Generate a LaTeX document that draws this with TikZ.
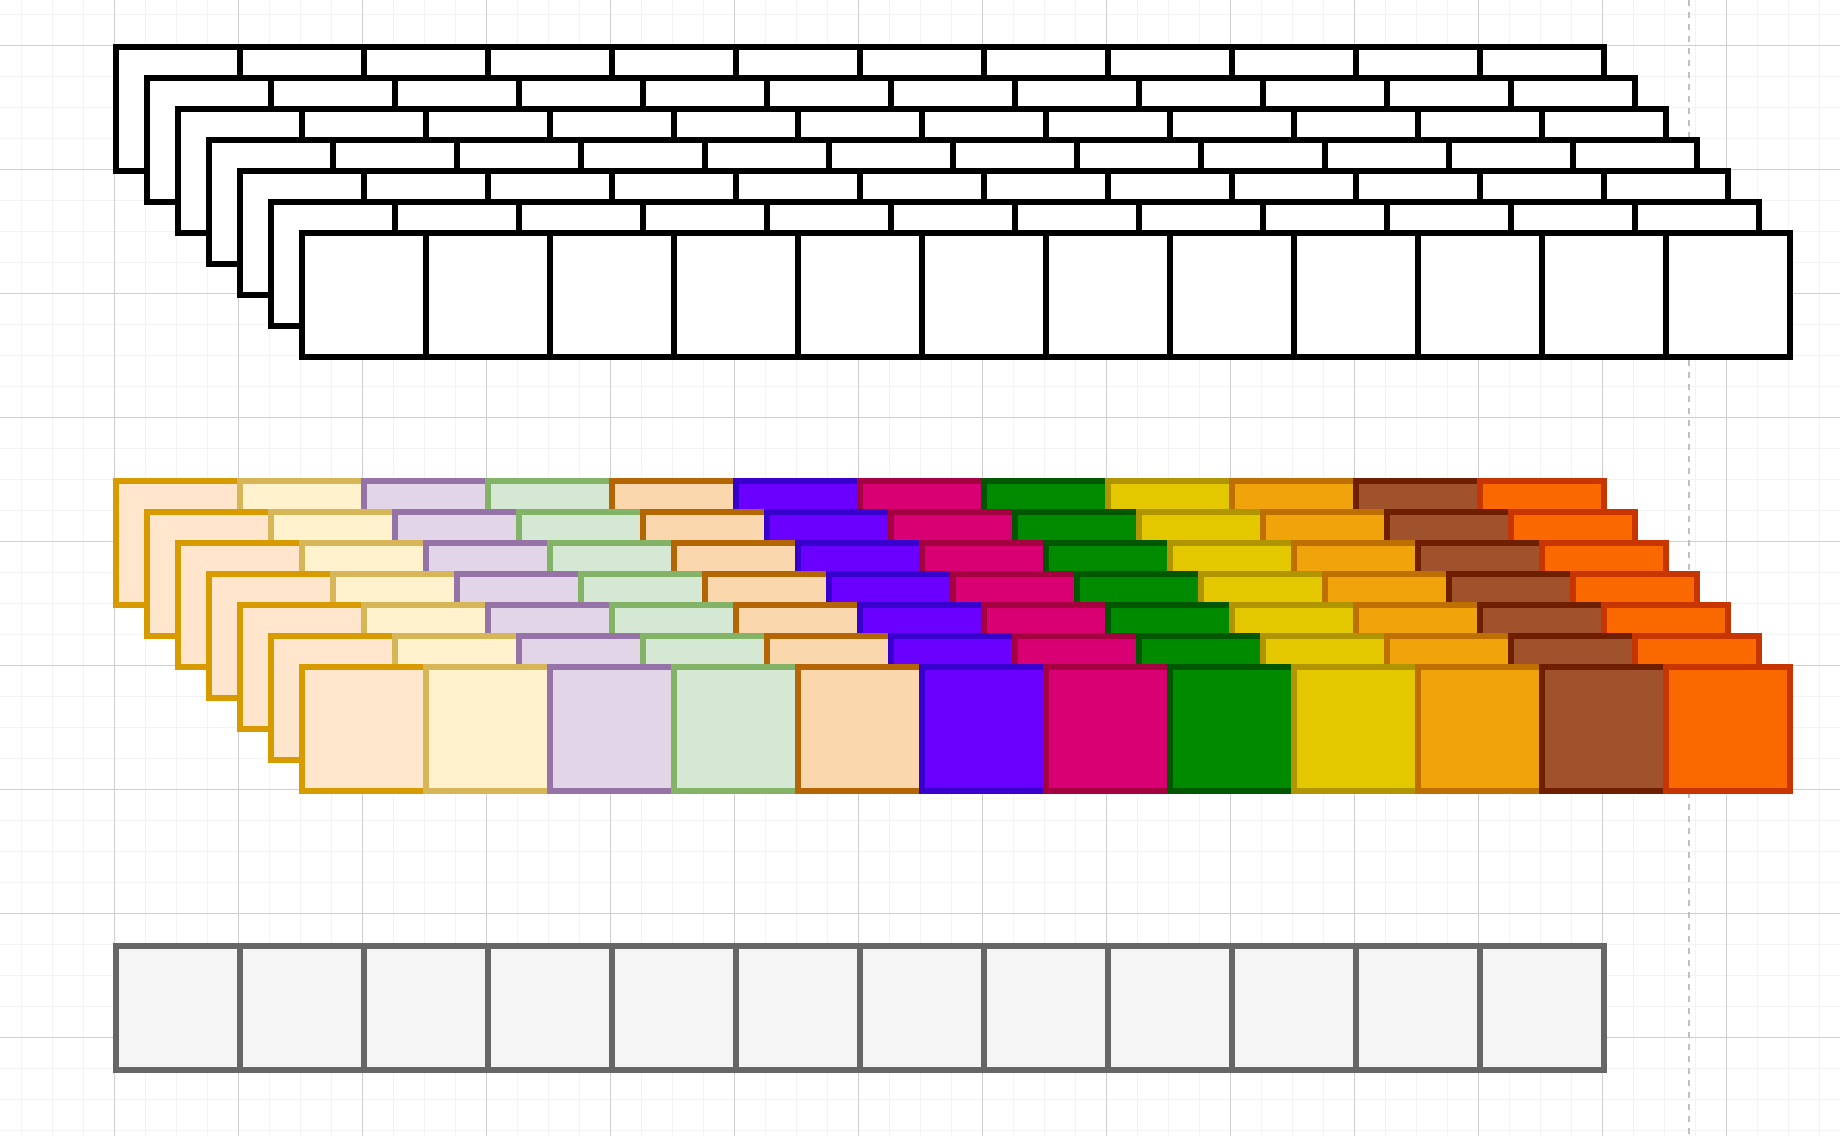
\documentclass[tikz,border=0pt]{standalone}
\definecolor{gmajor}{HTML}{CFCFCF}
\definecolor{gminor}{HTML}{F3F3F3}
\definecolor{dashc}{HTML}{C0C0C0}
\definecolor{bfill}{HTML}{F5F5F5}
\definecolor{bline}{HTML}{666666}
\definecolor{cf0}{HTML}{FFE6CC}\definecolor{cs0}{HTML}{D79B00}
\definecolor{cf1}{HTML}{FFF2CC}\definecolor{cs1}{HTML}{D6B656}
\definecolor{cf2}{HTML}{E1D5E7}\definecolor{cs2}{HTML}{9673A6}
\definecolor{cf3}{HTML}{D5E8D4}\definecolor{cs3}{HTML}{82B366}
\definecolor{cf4}{HTML}{FAD7AC}\definecolor{cs4}{HTML}{B46504}
\definecolor{cf5}{HTML}{6A00FF}\definecolor{cs5}{HTML}{3700CC}
\definecolor{cf6}{HTML}{D80073}\definecolor{cs6}{HTML}{A50040}
\definecolor{cf7}{HTML}{008A00}\definecolor{cs7}{HTML}{005700}
\definecolor{cf8}{HTML}{E3C800}\definecolor{cs8}{HTML}{B09500}
\definecolor{cf9}{HTML}{F0A30A}\definecolor{cs9}{HTML}{BD7000}
\definecolor{cf10}{HTML}{A0522D}\definecolor{cs10}{HTML}{6D1F00}
\definecolor{cf11}{HTML}{FA6800}\definecolor{cs11}{HTML}{C73500}
\begin{document}
\begin{tikzpicture}[x=1pt,y=-1pt,
  cell/.style={draw, line width=5.8pt, minimum width=124pt, minimum height=124pt,
    inner sep=0pt, outer sep=0pt, anchor=north west},
  minorline/.style={gminor, line width=1.6pt},
  majorline/.style={gmajor, line width=0.9pt},
  guide/.style={dashc, line width=2pt, dash pattern=on 6pt off 6pt}]
\useasboundingbox (0,0) rectangle (1840,1136);
\fill[white] (0,0) rectangle (1840,1136);
% grid
\foreach \i in {0,...,59} {\draw[minorline] ({21.3+31*\i},0) -- ({21.3+31*\i},1136);}
\foreach \i in {0,...,36} {\draw[minorline] (0,{14.3+31*\i}) -- (1840,{14.3+31*\i});}
\foreach \i in {1,...,14} {\draw[majorline] ({-9.7+124*\i},0) -- ({-9.7+124*\i},1136);}
\foreach \i in {0,...,8} {\draw[majorline] (0,{45.3+124*\i}) -- (1840,{45.3+124*\i});}
% dashed guide
\coordinate (gtop) at (1689,0);
\coordinate (gbot) at (1689,1136);
\draw[guide] (gtop) -- (gbot);
% top group
\foreach \k in {0,...,6} {
  \foreach \j in {0,...,11} {
    \node[cell, fill=white, draw=black] (t-\k-\j) at ({116.3+31*\k+124*\j},{47.3+31*\k}) {};
  }
}
% middle group
\foreach \k in {0,...,6} {
  \foreach \j in {0,...,11} {
    \node[cell, fill=cf\j, draw=cs\j] (m-\k-\j) at ({116.3+31*\k+124*\j},{481.3+31*\k}) {};
  }
}
% bottom group
\foreach \j in {0,...,11} {
  \node[cell, fill=bfill, draw=bline] (b-\j) at ({116.3+124*\j},946.3) {};
}
\end{tikzpicture}
\end{document}
